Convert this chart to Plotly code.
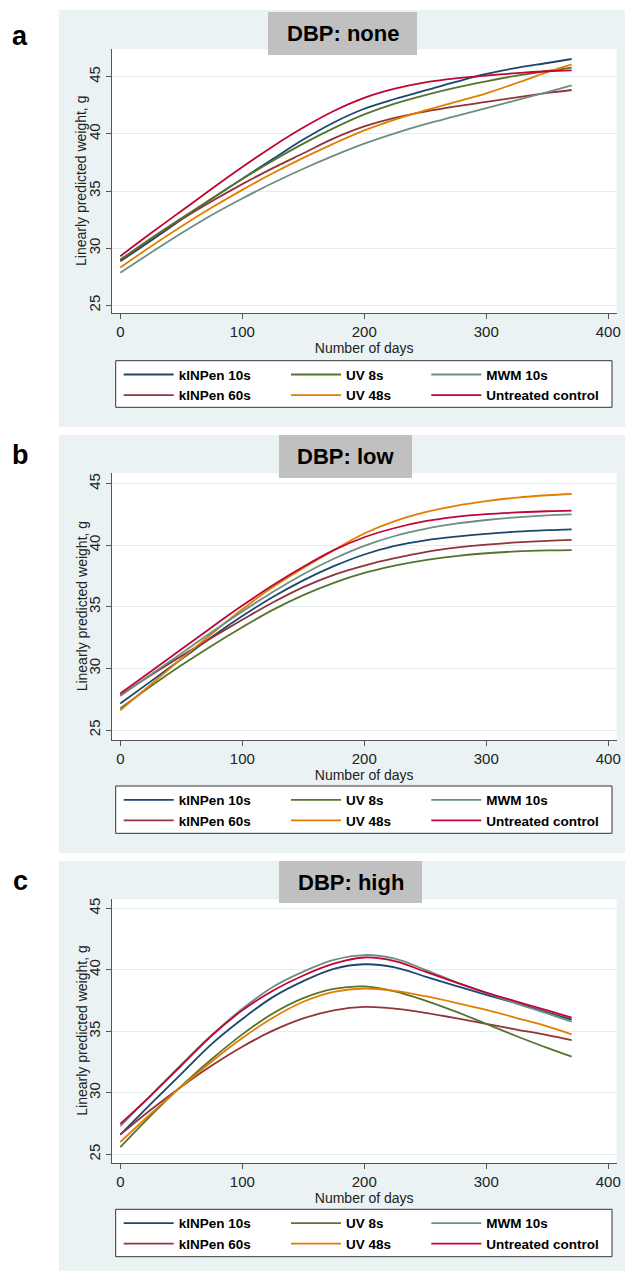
import plotly.graph_objects as go

W, H = 625, 1271

# ---------------- data ----------------
days = [0, 25, 50, 75, 100, 125, 150, 175, 200, 225, 250, 275, 300, 325, 350, 370]

series_names = ["kINPen 10s", "kINPen 60s", "UV 8s", "UV 48s", "MWM 10s", "Untreated control"]
series_colors = ["#1a476f", "#90353b", "#55752f", "#e37e00", "#6e8e84", "#c10534"]
legend_column = [0, 0, 1, 1, 2, 2]

panel_titles = ["DBP: none", "DBP: low", "DBP: high"]
panel_letters = ["a", "b", "c"]

x_ticks = [0, 100, 200, 300, 400]
y_ticks = [25, 30, 35, 40, 45]
x_title = "Number of days"
y_title = "Linearly predicted weight, g"

# Panel a  (DBP: none)
none_kinpen10 = [28.85, 30.65, 32.5, 34.32, 36.08, 37.8, 39.5, 41.0, 42.2, 43.05, 43.8, 44.55, 45.25, 45.78, 46.2, 46.55]
none_kinpen60 = [28.95, 30.8, 32.5, 34.1, 35.6, 37.0, 38.3, 39.6, 40.65, 41.4, 41.95, 42.4, 42.8, 43.2, 43.58, 43.84]
none_uv8 = [29.0, 30.85, 32.62, 34.35, 36.05, 37.65, 39.15, 40.5, 41.7, 42.65, 43.4, 44.05, 44.6, 45.1, 45.5, 45.8]
none_uv48 = [28.3, 30.15, 31.9, 33.55, 35.1, 36.55, 37.9, 39.15, 40.3, 41.25, 42.05, 42.8, 43.55, 44.45, 45.4, 46.08]
none_mwm10 = [27.85, 29.6, 31.3, 32.9, 34.35, 35.7, 36.95, 38.1, 39.15, 40.05, 40.85, 41.55, 42.25, 42.95, 43.65, 44.24]
none_control = [29.3, 31.3, 33.25, 35.2, 37.1, 38.9, 40.55, 42.0, 43.15, 43.95, 44.5, 44.85, 45.1, 45.32, 45.48, 45.55]

# Panel b  (DBP: low)
low_kinpen10 = [27.15, 28.95, 30.75, 32.55, 34.25, 35.8, 37.15, 38.3, 39.25, 39.95, 40.4, 40.7, 40.92, 41.1, 41.22, 41.29]
low_kinpen60 = [27.83, 29.45, 31.0, 32.5, 33.95, 35.35, 36.6, 37.6, 38.35, 38.95, 39.45, 39.8, 40.05, 40.23, 40.36, 40.43]
low_uv8 = [26.75, 28.55, 30.25, 31.85, 33.35, 34.75, 35.95, 36.95, 37.75, 38.35, 38.8, 39.12, 39.35, 39.5, 39.58, 39.61]
low_uv48 = [26.61, 28.7, 30.78, 32.82, 34.8, 36.6, 38.15, 39.6, 40.95, 41.95, 42.68, 43.2, 43.58, 43.87, 44.06, 44.16]
low_mwm10 = [27.77, 29.5, 31.22, 32.95, 34.62, 36.2, 37.65, 38.9, 39.95, 40.75, 41.33, 41.75, 42.05, 42.27, 42.42, 42.5]
low_control = [27.96, 29.75, 31.55, 33.35, 35.1, 36.75, 38.25, 39.6, 40.65, 41.4, 41.95, 42.3, 42.52, 42.66, 42.76, 42.81]

# Panel c  (DBP: high)
high_kinpen10 = [26.61, 29.1, 31.54, 33.98, 36.0, 37.78, 39.08, 40.08, 40.45, 40.2, 39.45, 38.7, 37.97, 37.27, 36.55, 35.95]
high_kinpen60 = [26.6, 28.62, 30.5, 32.22, 33.75, 35.05, 36.05, 36.7, 36.98, 36.85, 36.5, 36.07, 35.6, 35.14, 34.69, 34.29]
high_uv8 = [25.58, 28.15, 30.55, 32.75, 34.75, 36.45, 37.7, 38.45, 38.65, 38.25, 37.5, 36.6, 35.6, 34.6, 33.65, 32.94]
high_uv48 = [26.0, 28.3, 30.5, 32.55, 34.45, 36.1, 37.4, 38.2, 38.48, 38.28, 37.85, 37.32, 36.74, 36.08, 35.4, 34.75]
high_mwm10 = [27.3, 29.8, 32.3, 34.7, 36.83, 38.6, 39.85, 40.8, 41.2, 40.9, 40.0, 39.0, 38.1, 37.25, 36.45, 35.78]
high_control = [27.48, 29.78, 32.22, 34.66, 36.7, 38.3, 39.54, 40.5, 41.0, 40.7, 39.85, 38.98, 38.14, 37.41, 36.7, 36.11]

panel_series = [
    [none_kinpen10, none_kinpen60, none_uv8, none_uv48, none_mwm10, none_control],
    [low_kinpen10, low_kinpen60, low_uv8, low_uv48, low_mwm10, low_control],
    [high_kinpen10, high_kinpen60, high_uv8, high_uv48, high_mwm10, high_control],
]

# ---------------- layout geometry (pixels) ----------------
FONT = "Liberation Sans, Arial, sans-serif"
PANEL_BG = "#eaf2f3"
TITLE_BG = "#c0c0c0"
GRID = "#e3ecee"
AXIS = "#555555"


def px_x(v):
    return v / W


def px_y(v):
    return 1 - v / H


panels = [
    dict(bg=(59, 10, 625, 427), plot=(111.7, 49.3, 616.7, 313.3), yr=[24.30, 47.40],
         tbox=(268, 12, 417, 55), letter=(20, 36), leg=(115.7, 360.7, 612, 407.3)),
    dict(bg=(59, 435, 625, 853), plot=(111.7, 473.3, 616.7, 740.0), yr=[24.19, 45.84],
         tbox=(279, 435, 412, 478), letter=(20, 455), leg=(115.7, 786.0, 612, 833.3)),
    dict(bg=(59, 861, 625, 1275), plot=(111.7, 899.3, 616.7, 1162.7), yr=[24.32, 45.73],
         tbox=(279, 861, 422, 903), letter=(20, 881), leg=(115.7, 1209.3, 612, 1256.7)),
]
legend_line_x = [121.7, 289.0, 429.3]
ITEM_W = 50

fig = go.Figure()
shapes = []
annotations = []
layout_extra = {}

for p, panel in enumerate(panels):
    sfx = "" if p == 0 else str(p + 1)
    xa, ya = "x" + sfx, "y" + sfx
    for s, name in enumerate(series_names):
        leg_id = "legend" + ("" if (p == 0 and legend_column[s] == 0) else str(p * 3 + legend_column[s] + 1))
        fig.add_trace(go.Scatter(
            x=days, y=panel_series[p][s], name=name, mode="lines",
            line=dict(color=series_colors[s], width=1.8, shape="spline", smoothing=1.0),
            xaxis=xa, yaxis=ya, legend=leg_id, hoverinfo="x+y+name",
        ))

    x0, y0, x1, y1 = panel["plot"]
    layout_extra["xaxis" + sfx] = dict(
        domain=[px_x(x0), px_x(x1)], range=[-7.05, 406.9], anchor=ya,
        tickvals=x_ticks, ticks="outside", ticklen=5, tickcolor=AXIS, tickwidth=1,
        showline=True, linecolor=AXIS, linewidth=1, showgrid=False, zeroline=False,
        tickfont=dict(family=FONT, size=15, color="#222222"),
        title=dict(text=x_title, font=dict(family=FONT, size=14, color="#222222"), standoff=0),
        automargin=False, fixedrange=True,
    )
    layout_extra["yaxis" + sfx] = dict(
        domain=[px_y(y1), px_y(y0)], range=panel["yr"], anchor=xa,
        tickvals=y_ticks, ticks="outside", ticklen=5, tickcolor=AXIS, tickwidth=1,
        showline=True, linecolor=AXIS, linewidth=1, showgrid=True, gridcolor=GRID, gridwidth=1,
        zeroline=False, tickangle=-90,
        tickfont=dict(family=FONT, size=15, color="#222222"),
        automargin=False, fixedrange=True,
    )
    # y-axis title, placed like the reference (overlapping the tick-label column edge)
    annotations.append(dict(text=y_title, xref="paper", yref="paper",
                            x=px_x(81.7), y=px_y((y0 + y1) / 2), textangle=-90,
                            xanchor="center", yanchor="middle", showarrow=False,
                            font=dict(family=FONT, size=14, color="#222222")))

    # panel background, white plot region, title box, legend frame
    bx0, by0, bx1, by1 = panel["bg"]
    shapes.append(dict(type="rect", xref="paper", yref="paper", layer="below",
                       x0=px_x(bx0), x1=px_x(bx1), y0=px_y(by1), y1=px_y(by0),
                       fillcolor=PANEL_BG, line=dict(width=0)))
    shapes.append(dict(type="rect", xref="paper", yref="paper", layer="below",
                       x0=px_x(x0), x1=px_x(x1), y0=px_y(y1), y1=px_y(y0),
                       fillcolor="white", line=dict(width=0)))
    tx0, ty0, tx1, ty1 = panel["tbox"]
    shapes.append(dict(type="rect", xref="paper", yref="paper", layer="below",
                       x0=px_x(tx0), x1=px_x(tx1), y0=px_y(ty1), y1=px_y(ty0),
                       fillcolor=TITLE_BG, line=dict(width=0)))
    annotations.append(dict(text="<b>%s</b>" % panel_titles[p], xref="paper", yref="paper",
                            x=px_x((tx0 + tx1) / 2), y=px_y((ty0 + ty1) / 2),
                            xanchor="center", yanchor="middle", showarrow=False,
                            font=dict(family=FONT, size=22, color="black")))
    lx, ly = panel["letter"]
    annotations.append(dict(text="<b>%s</b>" % panel_letters[p], xref="paper", yref="paper",
                            x=px_x(lx), y=px_y(ly), xanchor="center", yanchor="middle",
                            showarrow=False, font=dict(family=FONT, size=27, color="black")))
    gx0, gy0, gx1, gy1 = panel["leg"]
    shapes.append(dict(type="rect", xref="paper", yref="paper", layer="below",
                       x0=px_x(gx0), x1=px_x(gx1), y0=px_y(gy1), y1=px_y(gy0),
                       fillcolor="white", line=dict(width=1, color="#333333")))
    for c in range(3):
        leg_id = "legend" + ("" if (p == 0 and c == 0) else str(p * 3 + c + 1))
        layout_extra[leg_id] = dict(
            x=px_x(legend_line_x[c] - 3), y=px_y(gy0 - 1.5), xanchor="left", yanchor="top",
            orientation="v", bgcolor="rgba(0,0,0,0)", borderwidth=0, itemwidth=ITEM_W,
            tracegroupgap=0, itemclick=False, itemdoubleclick=False,
            font=dict(family=FONT, size=13.5, color="black", weight="bold"),
        )

fig.update_layout(
    width=W, height=H, margin=dict(l=0, r=0, t=0, b=0),
    paper_bgcolor="white", plot_bgcolor="white", showlegend=True,
    shapes=shapes, annotations=annotations, **layout_extra,
)

fig.write_html("out.html", config={"displayModeBar": False},
               post_script="document.body.style.margin='0px';")
